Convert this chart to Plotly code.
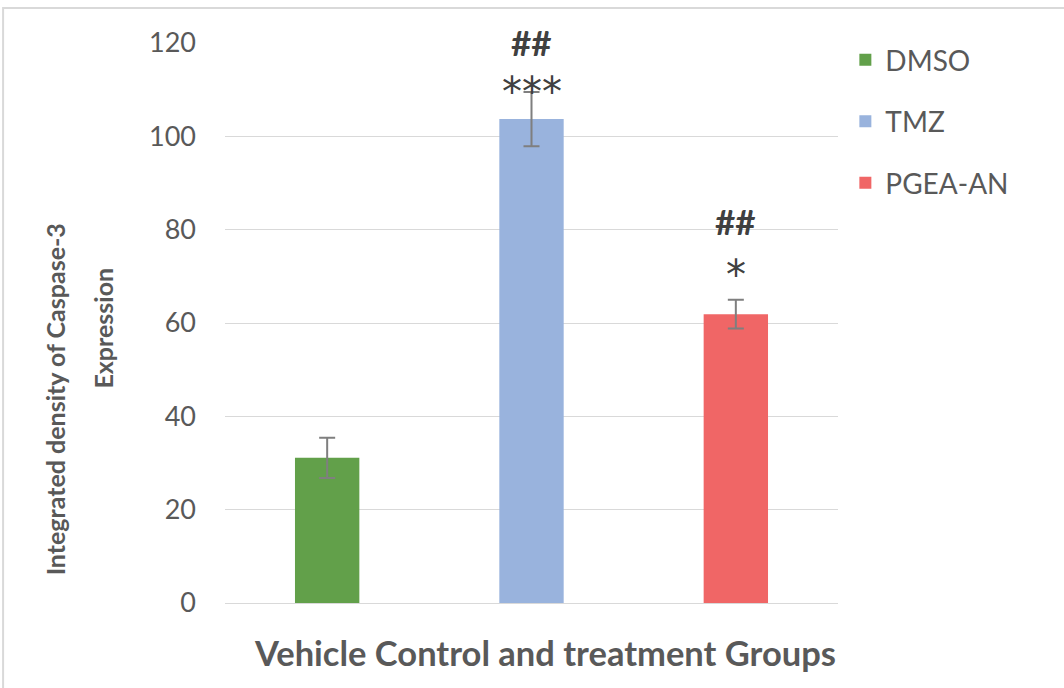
import plotly.graph_objects as go

# Caspase-3 integrated density per group (mean and error)
groups = ["DMSO", "TMZ", "PGEA-AN"]
values = [31.1, 103.7, 61.9]
errors = [4.3, 5.8, 3.1]
colors = ["#62a04a", "#99b3dd", "#f06666"]
sig_star = ["", "***", "*"]
sig_hash = ["", "##", "##"]
y_ticks = [0, 20, 40, 60, 80, 100, 120]

FONT = "Lato, 'Open Sans', sans-serif"
GRAY = "#595959"
DARK = "#404040"

# vertical pixel offsets of the significance marks above each error bar
star_shift = {"TMZ": 0, "PGEA-AN": 25}
hash_shift = {"TMZ": 50, "PGEA-AN": 79}

fig = go.Figure()
for i, g in enumerate(groups):
    fig.add_trace(go.Bar(
        x=[g], y=[values[i]], name=g,
        legendgroup=g,
        marker=dict(color=colors[i], line=dict(width=0)),
        width=0.315,
        error_y=dict(type="data", array=[errors[i]], visible=True,
                     color="#7f7f7f", thickness=2, width=8),
    ))

# significance markers above bars
for i, g in enumerate(groups):
    if sig_star[i]:
        top = values[i] + errors[i]
        fig.add_annotation(x=g, y=top, yref="y", text=sig_star[i],
                           showarrow=False, yanchor="middle",
                           yshift=star_shift[g],
                           font=dict(family="DejaVu Sans", size=40, color=DARK))
        fig.add_annotation(x=g, y=top, yref="y", text="<b>" + sig_hash[i] + "</b>",
                           showarrow=False, yanchor="middle",
                           yshift=hash_shift[g],
                           font=dict(family=FONT, size=35, color=DARK))

# y-axis title, two lines aligned at their ends
fig.add_annotation(xref="paper", yref="paper", x=-0.277, y=0.364,
                   text="<b>Integrated density of Caspase-3</b>",
                   textangle=-90, showarrow=False,
                   xanchor="center", yanchor="middle",
                   font=dict(family=FONT, size=25, color=GRAY))
fig.add_annotation(xref="paper", yref="paper", x=-0.199, y=0.49,
                   text="<b>Expression</b>",
                   textangle=-90, showarrow=False,
                   xanchor="center", yanchor="middle",
                   font=dict(family=FONT, size=25, color=GRAY))

# x-axis title
fig.add_annotation(xref="paper", yref="paper", x=0.522, y=-0.088,
                   text="<b>Vehicle Control and treatment Groups</b>",
                   showarrow=False, xanchor="center", yanchor="middle",
                   font=dict(family=FONT, size=34.5, color=GRAY))

# chart-area border
fig.add_shape(type="rect", xref="paper", yref="paper",
              x0=-0.362, x1=1.6, y0=-0.5, y1=1.0625,
              line=dict(color="#d9d9d9", width=2), fillcolor="rgba(0,0,0,0)")

fig.update_layout(
    width=1064, height=688,
    margin=dict(l=225, r=226, t=43, b=85),
    paper_bgcolor="white", plot_bgcolor="white",
    barmode="overlay",
    showlegend=True,
    legend=dict(x=1.012, y=1.014, xanchor="left", yanchor="top",
                font=dict(family=FONT, size=28, color=GRAY),
                tracegroupgap=22, itemwidth=30,
                bgcolor="rgba(0,0,0,0)"),
    xaxis=dict(showticklabels=False, showgrid=False, zeroline=False,
               showline=False, ticks=""),
    yaxis=dict(range=[0, 120], tickvals=y_ticks, showgrid=True,
               gridcolor="#d9d9d9", gridwidth=1, zeroline=True,
               zerolinecolor="#d9d9d9", zerolinewidth=1,
               showline=False, ticks="", ticklabelstandoff=28,
               tickfont=dict(family=FONT, size=27, color=GRAY)),
)

fig.write_html("out.html")
